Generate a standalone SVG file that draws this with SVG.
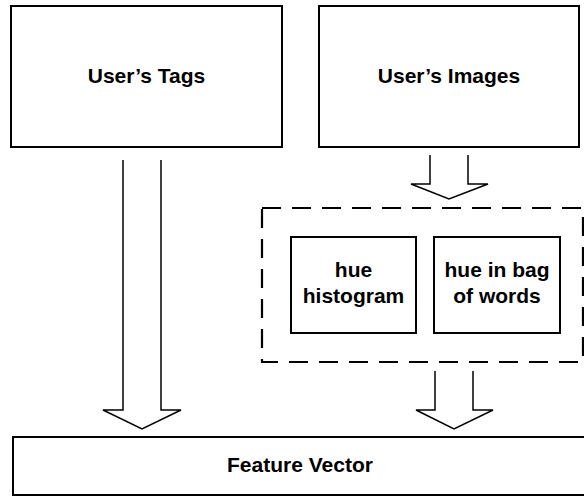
<svg xmlns="http://www.w3.org/2000/svg" width="584" height="497" viewBox="0 0 584 497">
<style>
.box{fill:#fff;stroke:#000;stroke-width:2}
.dash{fill:none;stroke:#000;stroke-width:2.2;stroke-dasharray:19 11}
.arrow{fill:#fff;stroke:#000;stroke-width:1.5;stroke-linejoin:miter}
text{font-family:"Liberation Sans",Arial,sans-serif;font-weight:bold;font-size:21px;fill:#000;text-anchor:middle}
</style>
<rect width="584" height="497" fill="#fff"/>
<g id="connectors">
<path class="arrow" d="M123,160 V410 H103 L142,429 L181,410 H161 V160"/>
<path class="arrow" d="M430,155 V184 H411 L449,199 L488,184 H468 V155"/>
<path class="arrow" d="M435,371 V410 H416 L454,429 L493,410 H473 V371"/>
</g>
<g id="users-tags">
<rect class="box" x="11" y="6" width="271" height="141"/>
<text x="146.5" y="83">User’s Tags</text>
</g>
<g id="users-images">
<rect class="box" x="319" y="6" width="260" height="141"/>
<text x="449" y="83">User’s Images</text>
</g>
<g id="features-group">
<rect class="dash" x="262" y="208" width="321" height="154"/>
</g>
<g id="hue-histogram">
<rect class="box" x="291" y="237" width="125" height="96"/>
<text x="353.5" y="277">hue</text>
<text x="353.5" y="303">histogram</text>
</g>
<g id="hue-bow">
<rect class="box" x="434" y="237" width="126" height="96"/>
<text x="497" y="277">hue in bag</text>
<text x="497" y="303">of words</text>
</g>
<g id="feature-vector">
<rect class="box" x="13" y="437" width="574" height="58"/>
<text x="300" y="472">Feature Vector</text>
</g>
</svg>
